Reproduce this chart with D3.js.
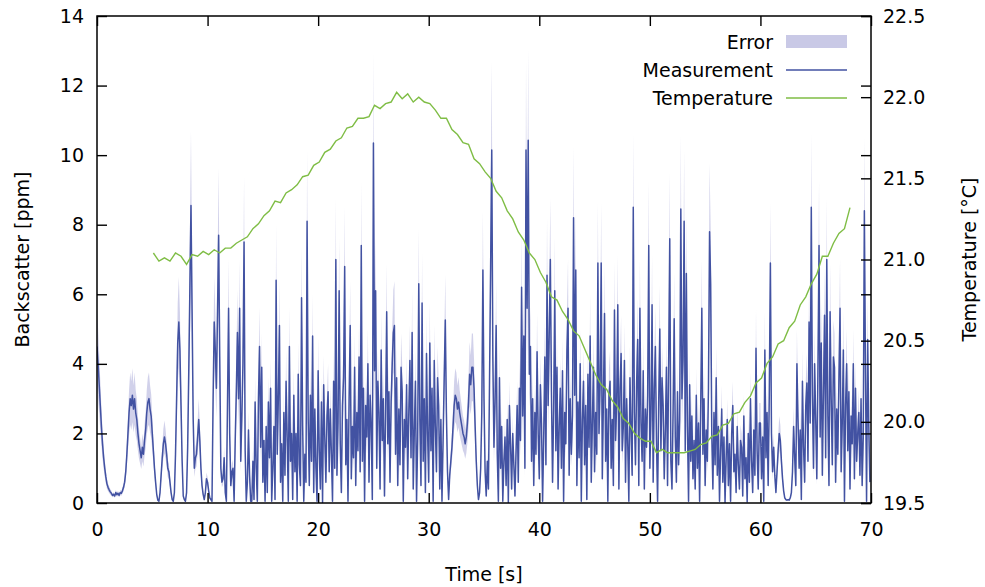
<html>

<head>
  <script src="https://d3js.org/d3.v7.min.js"></script>
  <style>
    body {
      margin: 0;
      background: #fff;
    }

    text {
      font-family: "DejaVu Sans", Verdana, sans-serif;
      font-size: 19px;
      fill: #000;
    }

    .axis .domain {
      display: none;
    }

    .axis line {
      stroke: #000;
      stroke-width: 1.4;
    }
  </style>
</head>

<body>
  <svg id="chart" width="985" height="587"></svg>
  <script>
    // backscatter samples, one row per second (0.1 s apart)
    const sampleStep = 0.1;
    const backscatter = [
      4.5, 4.0, 3.4, 2.8, 2.2, 1.7, 1.3, 1.0, 0.75, 0.55,
      0.45, 0.38, 0.32, 0.28, 0.22, 0.25, 0.2, 0.3, 0.24, 0.28,
      0.22, 0.3, 0.28, 0.35, 0.45, 0.6, 0.9, 1.4, 2.0, 2.6,
      3.0, 2.8, 3.1, 2.7, 3.0, 2.6, 2.4, 2.0, 1.7, 1.5,
      1.3, 1.6, 1.4, 1.8, 2.1, 2.6, 2.9, 3.0, 2.7, 2.5,
      2.0, 1.5, 1.0, 0.6, 0.25, 0.08, 0.05, 0.3, 0.8, 1.3,
      1.7, 1.9, 1.7, 1.4, 1.0, 0.9, 0.6, 0.3, 0.1, 0.05,
      0.3, 1.4, 3.0, 4.6, 5.2, 4.4, 2.8, 1.2, 0.2, 0.1,
      0.05, 0.3, 1.6, 3.8, 6.2, 8.55, 5.5, 2.4, 1.0, 1.3,
      1.4, 1.9, 2.4, 1.8, 1.0, 0.5, 0.25, 0.1, 0.3, 0.7,
      0.6, 0.35, 0.15, 0.1, 0.05, 3.0, 5.2, 4.4, 3.3, 5.5,
      7.7, 4.2, 1.0, 0.6, 0.7, 1.3, 0.3, 0.05, 2.8, 5.6,
      2.0, 0.5, 0.9, 1.0, 0.05, 1.8, 3.2, 4.9, 3.0, 5.6,
      1.2, 2.5, 4.0, 7.5, 1.5, 0.05, 0.6, 2.1, 0.8, 0.05,
      0.05, 1.2, 0.1, 2.9, 1.0, 0.05, 3.0, 4.5, 1.6, 3.9,
      0.6, 1.8, 0.05, 2.2, 0.3, 2.9, 1.3, 3.3, 0.05, 1.0,
      2.2, 0.1, 6.4, 1.4, 3.0, 5.1, 0.6, 1.7, 0.05, 2.6,
      0.8, 3.5, 1.9, 0.05, 4.5, 1.2, 2.0, 0.1, 3.1, 0.9,
      2.0, 0.05, 3.7, 1.1, 0.5, 5.9, 2.2, 0.05, 1.4, 0.6,
      8.1, 2.4, 0.5, 3.1, 1.2, 4.8, 0.3, 2.7, 1.0, 0.05,
      3.8, 1.5, 0.4, 2.9, 0.02, 3.4, 1.9, 0.6, 2.5, 3.2,
      0.9, 2.7, 1.4, 0.05, 3.5, 1.0, 7.0, 0.8, 2.3, 6.1,
      1.7, 0.3, 2.8, 3.6, 6.8, 1.1, 2.4, 0.05, 3.0, 5.1,
      0.7, 2.2, 1.3, 3.9, 0.5, 2.6, 1.5, 4.2, 0.9, 7.4,
      1.2, 3.3, 0.05, 2.8, 1.9, 4.0, 0.6, 3.1, 2.2, 0.1,
      10.35, 3.8, 6.1, 1.0, 3.5, 2.6, 0.4, 4.4, 1.8, 3.0,
      0.2, 2.5, 5.5, 1.7, 3.2, 0.6, 2.9, 4.0, 4.9, 5.1,
      1.4, 3.6, 0.5, 2.7, 1.1, 3.9, 3.2, 0.05, 2.4, 1.6,
      3.4, 0.7, 2.6, 4.1, 1.3, 4.9, 0.4, 2.1, 3.5, 0.05,
      1.8, 6.3, 2.4, 0.5, 5.75, 1.2, 3.0, 0.3, 4.3, 2.0,
      0.6, 4.6, 1.5, 3.3, 0.05, 4.1, 2.2, 0.9, 3.6, 2.8,
      0.4, 2.4, 0.05, 1.8, 3.6, 5.26, 2.6, 0.9, 0.1, 0.8,
      1.2, 1.6, 2.2, 2.8, 3.1, 3.0, 2.7, 2.9, 2.6, 2.4,
      2.2, 2.0, 1.9, 1.7, 1.9, 2.3, 2.9, 3.7, 3.4, 3.9,
      3.9, 3.3, 2.2, 1.2, 0.5, 0.1, 0.3, 1.0, 2.6, 6.7,
      3.0, 0.9, 0.2, 1.2, 0.4, 3.5, 6.8, 10.15, 4.2, 1.6,
      2.9, 5.1, 1.4, 0.05, 3.6, 1.0, 2.2, 0.05, 1.2, 1.9,
      0.5, 2.4, 0.02, 2.8, 1.7, 0.4, 2.0, 1.1, 0.2, 1.5,
      2.8, 0.6, 3.3, 1.8, 6.2, 2.5, 4.8, 1.0, 10.15, 5.6,
      10.43, 3.7, 4.5, 1.2, 3.0, 0.5, 2.6, 1.4, 4.35, 2.0,
      0.7, 3.4, 2.3, 0.05, 1.9, 4.2, 1.1, 6.55, 2.8, 4.9,
      7.0, 3.2, 0.6, 2.7, 6.1, 1.5, 3.9, 0.4, 2.2, 3.3,
      1.0, 3.8, 0.05, 2.6, 1.7, 4.4, 5.6, 0.8, 3.0, 1.4,
      2.5, 8.2, 3.1, 6.7, 0.5, 2.9, 1.3, 4.0, 0.05, 2.4,
      3.5, 1.1, 2.8, 0.1, 3.7, 1.6, 4.8, 0.6, 2.3, 3.9,
      0.9, 2.6, 1.4, 6.9, 2.0, 3.4, 6.9, 0.7, 3.0, 5.45,
      1.2, 2.7, 0.05, 3.1, 3.5, 1.0, 2.4, 0.5, 5.55, 1.8,
      2.9, 5.7, 0.4, 3.3, 4.3, 1.5, 2.2, 4.1, 0.6, 3.0,
      1.7, 0.05, 3.6, 2.1, 0.8, 8.5, 2.6, 1.1, 3.4, 4.7,
      0.5, 5.6, 2.3, 1.2, 3.8, 0.4, 2.7, 1.6, 3.1, 7.4,
      1.0, 2.5, 5.7, 0.6, 3.3, 4.5, 1.8, 0.05, 2.9, 5.0,
      1.5, 3.6, 2.8, 0.7, 2.1, 3.9, 0.5, 4.0, 7.6, 1.2,
      0.4, 2.6, 5.3, 1.9, 0.6, 3.2, 1.1, 2.4, 8.45, 3.0,
      4.1, 8.1, 1.5, 6.6, 2.2, 0.05, 3.4, 1.2, 2.5, 0.7,
      1.8, 0.4, 3.1, 1.0, 2.3, 0.05, 2.8, 5.6, 1.4, 3.0,
      0.5, 2.1, 1.2, 3.3, 7.8, 6.3, 2.0, 0.4, 2.6, 1.1,
      3.6, 0.8, 2.2, 0.05, 1.5, 2.7, 0.6, 1.9, 0.02, 1.3,
      2.4, 0.5, 1.7, 0.05, 2.0, 2.8, 0.9, 1.4, 0.3, 2.2,
      1.1, 0.4, 1.8, 1.6, 0.2, 2.5, 0.7, 1.3, 0.03, 2.0,
      0.6, 3.0, 1.2, 0.3, 2.1, 0.8, 4.45, 1.5, 0.4, 2.3,
      2.3, 0.7, 1.9, 0.05, 4.4, 1.3, 2.6, 0.5, 3.1, 6.9,
      2.0, 0.9, 1.6, 0.8, 0.3, 0.9, 1.5, 2.0, 1.8, 1.2,
      0.7, 0.35, 0.15, 0.1, 0.08, 0.1, 0.08, 0.15, 0.3, 0.9,
      2.2, 1.3, 0.5, 4.0, 2.4, 1.0, 2.1, 0.1, 3.5, 1.6,
      0.6, 2.8, 3.45, 1.2, 5.2, 2.3, 8.5, 3.1, 1.0, 4.0,
      2.4, 0.7, 3.8, 7.4, 1.9, 4.6, 0.8, 3.2, 5.4, 1.3,
      7.0, 2.5, 0.5, 5.5, 3.0, 1.1, 4.2, 3.9, 0.6, 2.7,
      1.4, 3.6, 5.6, 0.9, 2.3, 4.4, 0.05, 2.8, 4.0, 1.5,
      3.2, 0.4, 2.5, 1.7, 4.0, 0.7, 3.3, 1.2, 2.0, 2.6,
      0.8, 3.0, 0.5, 1.9, 8.4, 3.7, 0.05, 4.7, 2.2, 0.6
    ];
    // relative error of the measurement (band half-width)
    const errorFraction = 0.25;

    // temperature, every 0.5 s starting at 5.1 s
    const tempStart = 5.1;
    const tempStep = 0.5;
    const temperature = [
      21.04, 20.99, 21.01, 20.99, 21.04, 21.02, 20.97, 21.03, 21.02, 21.05,
      21.03, 21.06, 21.04, 21.07, 21.07, 21.10, 21.12, 21.14, 21.19, 21.22,
      21.27, 21.30, 21.36, 21.35, 21.41, 21.43, 21.46, 21.51, 21.52, 21.58,
      21.60, 21.66, 21.68, 21.73, 21.75, 21.81, 21.82, 21.87, 21.87, 21.88,
      21.95, 21.93, 21.96, 21.97, 22.03, 21.99, 22.02, 21.97, 22.00, 21.97,
      21.96, 21.92, 21.87, 21.87, 21.80, 21.77, 21.72, 21.71, 21.62, 21.59,
      21.54, 21.50, 21.42, 21.38, 21.30, 21.25, 21.17, 21.12, 21.04, 21.00,
      20.92, 20.86, 20.77, 20.75, 20.68, 20.63, 20.56, 20.53, 20.45, 20.37,
      20.29, 20.23, 20.20, 20.13, 20.09, 20.02, 19.99, 19.93, 19.90, 19.88,
      19.88, 19.81, 19.83, 19.81, 19.81, 19.81, 19.81, 19.82, 19.83, 19.86,
      19.87, 19.91, 19.92, 19.98, 19.99, 20.05, 20.06, 20.12, 20.16, 20.24,
      20.27, 20.36, 20.40, 20.48, 20.50, 20.58, 20.62, 20.72, 20.77, 20.85,
      20.91, 21.02, 21.02, 21.10, 21.16, 21.19, 21.32
    ];

    const xTicks = [0, 10, 20, 30, 40, 50, 60, 70];
    const yTicks = [0, 2, 4, 6, 8, 10, 12, 14];
    const y2Ticks = [19.5, 20, 20.5, 21, 21.5, 22, 22.5];
    const legendLabels = ["Error", "Measurement", "Temperature"];

    const blue = "#4252a2";
    const green = "#7fbd45";
    const band = "#c9c9e6";

    const margin = { top: 16, right: 114, bottom: 84, left: 97 };
    const width = 985 - margin.left - margin.right;
    const height = 587 - margin.top - margin.bottom;

    const xScale = d3.scaleLinear().domain([0, 70]).range([0, width]);
    const yScale = d3.scaleLinear().domain([0, 14]).range([height, 0]);
    const y2Scale = d3.scaleLinear().domain([19.5, 22.5]).range([height, 0]);

    const svg = d3.select("svg#chart");
    const g = svg.append("g").attr("transform", `translate(${margin.left},${margin.top})`);

    g.append("clipPath").attr("id", "plotClip")
      .append("rect").attr("width", width).attr("height", height);

    const plot = g.append("g").attr("clip-path", "url(#plotClip)");

    const errorArea = d3.area()
      .x((d, i) => xScale(i * sampleStep))
      .y0(d => yScale(d * (1 - errorFraction)))
      .y1(d => yScale(d * (1 + errorFraction)));

    plot.append("path")
      .datum(backscatter)
      .attr("d", errorArea)
      .attr("fill", band)
      .attr("opacity", 0.85);

    const measLine = d3.line()
      .x((d, i) => xScale(i * sampleStep))
      .y(d => yScale(d));

    plot.append("path")
      .datum(backscatter)
      .attr("d", measLine)
      .attr("fill", "none")
      .attr("stroke", blue)
      .attr("stroke-width", 1.5)
      .attr("stroke-linejoin", "round");

    const tempLine = d3.line()
      .x((d, i) => xScale(tempStart + i * tempStep))
      .y(d => y2Scale(d));

    plot.append("path")
      .datum(temperature)
      .attr("d", tempLine)
      .attr("fill", "none")
      .attr("stroke", green)
      .attr("stroke-width", 1.4);

    // axes, ticks pointing inward like gnuplot
    g.append("g").attr("class", "axis")
      .attr("transform", `translate(0,${height})`)
      .call(d3.axisBottom(xScale).tickValues(xTicks).tickSize(-10).tickPadding(20));
    g.append("g").attr("class", "axis")
      .call(d3.axisTop(xScale).tickValues(xTicks).tickSize(-10).tickFormat(""));
    g.append("g").attr("class", "axis")
      .call(d3.axisLeft(yScale).tickValues(yTicks).tickSize(-10).tickPadding(13));
    g.append("g").attr("class", "axis")
      .attr("transform", `translate(${width},0)`)
      .call(d3.axisRight(yScale).tickValues(yTicks).tickSize(-10).tickFormat(""));
    g.append("g").attr("class", "axis")
      .attr("transform", `translate(${width},0)`)
      .call(d3.axisRight(y2Scale).tickValues(y2Ticks).tickSize(-10).tickPadding(12).tickFormat(d3.format(".1f")));

    g.selectAll(".axis text").style("font-size", "19px");

    g.append("rect")
      .attr("width", width)
      .attr("height", height)
      .attr("fill", "none")
      .attr("stroke", "#000")
      .attr("stroke-width", 1.5);

    // axis titles
    svg.append("text")
      .attr("x", margin.left + width / 2)
      .attr("y", 581)
      .attr("text-anchor", "middle")
      .text("Time [s]");
    svg.append("text")
      .attr("transform", `translate(29,${margin.top + height / 2}) rotate(-90)`)
      .attr("text-anchor", "middle")
      .text("Backscatter [ppm]");
    svg.append("text")
      .attr("transform", `translate(976,${margin.top + height / 2}) rotate(-90)`)
      .attr("text-anchor", "middle")
      .text("Temperature [°C]");

    // legend
    const legend = svg.append("g").attr("transform", "translate(773,42)");
    legendLabels.forEach((name, i) => {
      const row = legend.append("g").attr("transform", `translate(0,${i * 28})`);
      row.append("text")
        .attr("x", 0)
        .attr("y", 7)
        .attr("text-anchor", "end")
        .text(name);
      if (i === 0) {
        row.append("rect")
          .attr("x", 13).attr("y", -7)
          .attr("width", 61).attr("height", 13)
          .attr("fill", band);
      } else {
        row.append("line")
          .attr("x1", 13).attr("x2", 74)
          .attr("y1", 0).attr("y2", 0)
          .attr("stroke", i === 1 ? blue : green)
          .attr("stroke-width", 1.4);
      }
    });
  </script>
</body>

</html>
